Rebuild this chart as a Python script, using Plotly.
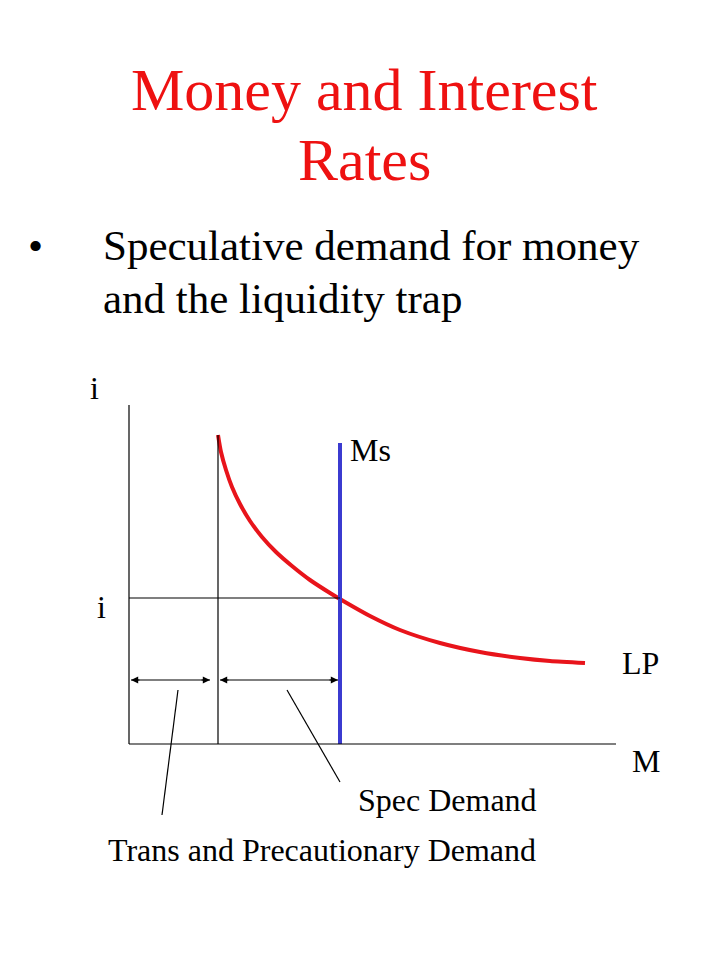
import plotly.graph_objects as go

# Diagram coordinates (screen units, y downward)
lp_x = [218, 221, 226, 232, 240, 250, 262, 276, 292, 310, 330, 345, 370, 400, 440, 480, 520, 550, 585]
lp_y = [435, 452, 470, 487, 504, 521, 537, 552, 566, 580, 593, 602, 616, 630, 643, 652, 658, 661, 663]
ms_x = [340, 340]
ms_y = [443, 744]

title_lines = ["Money and Interest", "Rates"]
bullet_lines = ["Speculative demand for money", "and the liquidity trap"]

fig = go.Figure()
fig.add_trace(go.Scatter(x=lp_x, y=lp_y, mode="lines", line=dict(color="#e8141b", width=4, shape="spline", smoothing=0.6), hoverinfo="skip"))
fig.add_trace(go.Scatter(x=ms_x, y=ms_y, mode="lines", line=dict(color="#3b3bd0", width=4), hoverinfo="skip"))

blk = dict(color="black", width=1.2)
for x0, y0, x1, y1 in [(129, 405, 129, 744), (129, 744, 616, 744), (218, 435, 218, 744),
                       (129, 598, 340, 598), (162, 815, 178, 690), (340, 782, 287, 690),
                       (131, 680, 210, 680), (220, 680, 338, 680)]:
    fig.add_shape(type="line", x0=x0, y0=y0, x1=x1, y1=y1, line=blk)

def darrow(a, b, y):
    for s, e in [(a, b), (b, a)]:
        d = 1 if e > s else -1
        fig.add_annotation(x=e, y=y, ax=e - d * 10, ay=y, xref="x", yref="y", axref="x", ayref="y",
                           showarrow=True, arrowhead=2, arrowsize=1.2, arrowwidth=1.2, arrowcolor="black", text="")
darrow(131, 210, 680)
darrow(220, 338, 680)

serif = "Liberation Serif"
for i, t in enumerate(title_lines):
    fig.add_annotation(x=364, y=90 + i * 70, text=t, showarrow=False, font=dict(family=serif, size=60, color="#ee1111"))
fig.add_annotation(x=26, y=245, text="•", showarrow=False, xanchor="left", font=dict(family=serif, size=43, color="black"))
for i, t in enumerate(bullet_lines):
    fig.add_annotation(x=101, y=245 + i * 53, text=t, showarrow=False, xanchor="left", font=dict(family=serif, size=43, color="black"))

labels = [("i", 88, 388), ("Ms", 348, 450), ("i", 95, 607), ("LP", 620, 663), ("M", 630, 761),
          ("Spec Demand", 356, 800), ("Trans and Precautionary Demand", 106, 850)]
for t, x, y in labels:
    fig.add_annotation(x=x, y=y, text=t, showarrow=False, xanchor="left", font=dict(family=serif, size=32, color="black"))

fig.update_layout(width=728, height=971, margin=dict(l=0, r=0, t=0, b=0), showlegend=False,
                  plot_bgcolor="white", paper_bgcolor="white",
                  xaxis=dict(range=[8, 736], visible=False, fixedrange=True),
                  yaxis=dict(range=[979, 8], visible=False, fixedrange=True))
fig.write_html("out.html")
